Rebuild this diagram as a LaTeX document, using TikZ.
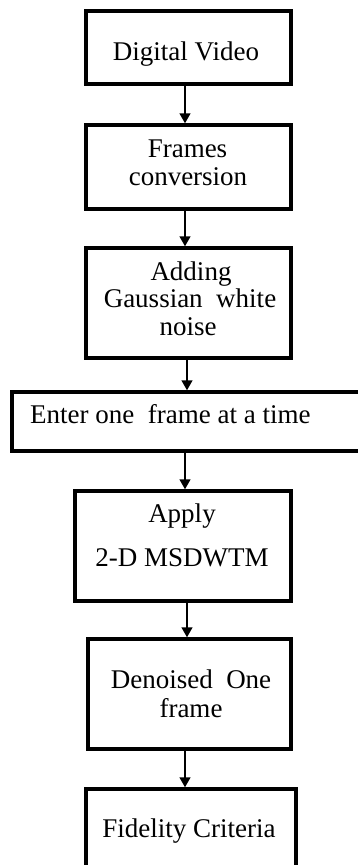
\documentclass[tikz,border=0pt]{standalone}
\usepackage{fontspec}
\setmainfont{Liberation Serif}
\usetikzlibrary{arrows.meta}
\begin{document}
\begin{tikzpicture}[x=1pt,y=-1pt,
  box/.style={draw=black,line width=3.5pt,rectangle,inner sep=0pt,fill=none},
  lbl/.style={anchor=base,inner sep=0pt,font=\fontsize{27}{30}\selectfont},
  arr/.style={line width=1.5pt,-{Triangle[width=11pt,length=10pt]}}]
\useasboundingbox (0,0) rectangle (358,865);
\clip (0,0) rectangle (358,865);
% boxes (centre-line coordinates)
\node[box,minimum width=205pt,minimum height=73pt] (b1) at (188.5,47.5) {};
\node[box,minimum width=205pt,minimum height=84pt] (b2) at (188.5,167) {};
\node[box,minimum width=205pt,minimum height=110pt] (b3) at (188.5,303) {};
\node[box,minimum width=358pt,minimum height=59pt] (b4) at (191,421.5) {};
\node[box,minimum width=216pt,minimum height=110pt] (b5) at (183,546) {};
\node[box,minimum width=203pt,minimum height=110pt] (b6) at (189.5,694) {};
\node[box,minimum width=210pt,minimum height=111pt] (b7) at (191,844.5) {};
% texts
\node[lbl] (t1) at (186,60) {Digital Video};
\node[lbl] (t2a) at (187.5,157) {Frames};
\node[lbl] (t2b) at (188,185) {conversion};
\node[lbl] (t3a) at (191,280) {Adding};
\node[lbl] (t3b) at (190,307) {Gaussian\ \ white};
\node[lbl] (t3c) at (188,335) {noise};
\node[lbl,anchor=base west] (t4) at (30,423) {Enter one\ \ frame at a time};
\node[lbl] (t5a) at (182,522) {Apply};
\node[lbl] (t5b) at (182,566) {2-D MSDWTM};
\node[lbl] (t6a) at (191,688) {Denoised\ \ One};
\node[lbl] (t6b) at (191,717) {frame};
\node[lbl] (t7) at (189,837) {Fidelity Criteria};
% connectors
\draw[arr] ([xshift=-3.5pt]b1.south) coordinate (s1) -- (s1 |- b2.north);
\draw[arr] ([xshift=-3.5pt]b2.south) coordinate (s2) -- (s2 |- b3.north);
\draw[arr] ([xshift=-1.5pt]b3.south) coordinate (s3) -- (s3 |- b4.north);
\draw[arr] ([xshift=-6pt]b4.south) coordinate (s4) -- (s4 |- b5.north);
\draw[arr] ([xshift=4pt]b5.south) coordinate (s5) -- (s5 |- b6.north);
\draw[arr] ([xshift=-4.5pt]b6.south) coordinate (s6) -- (s6 |- b7.north);
\end{tikzpicture}
\end{document}
